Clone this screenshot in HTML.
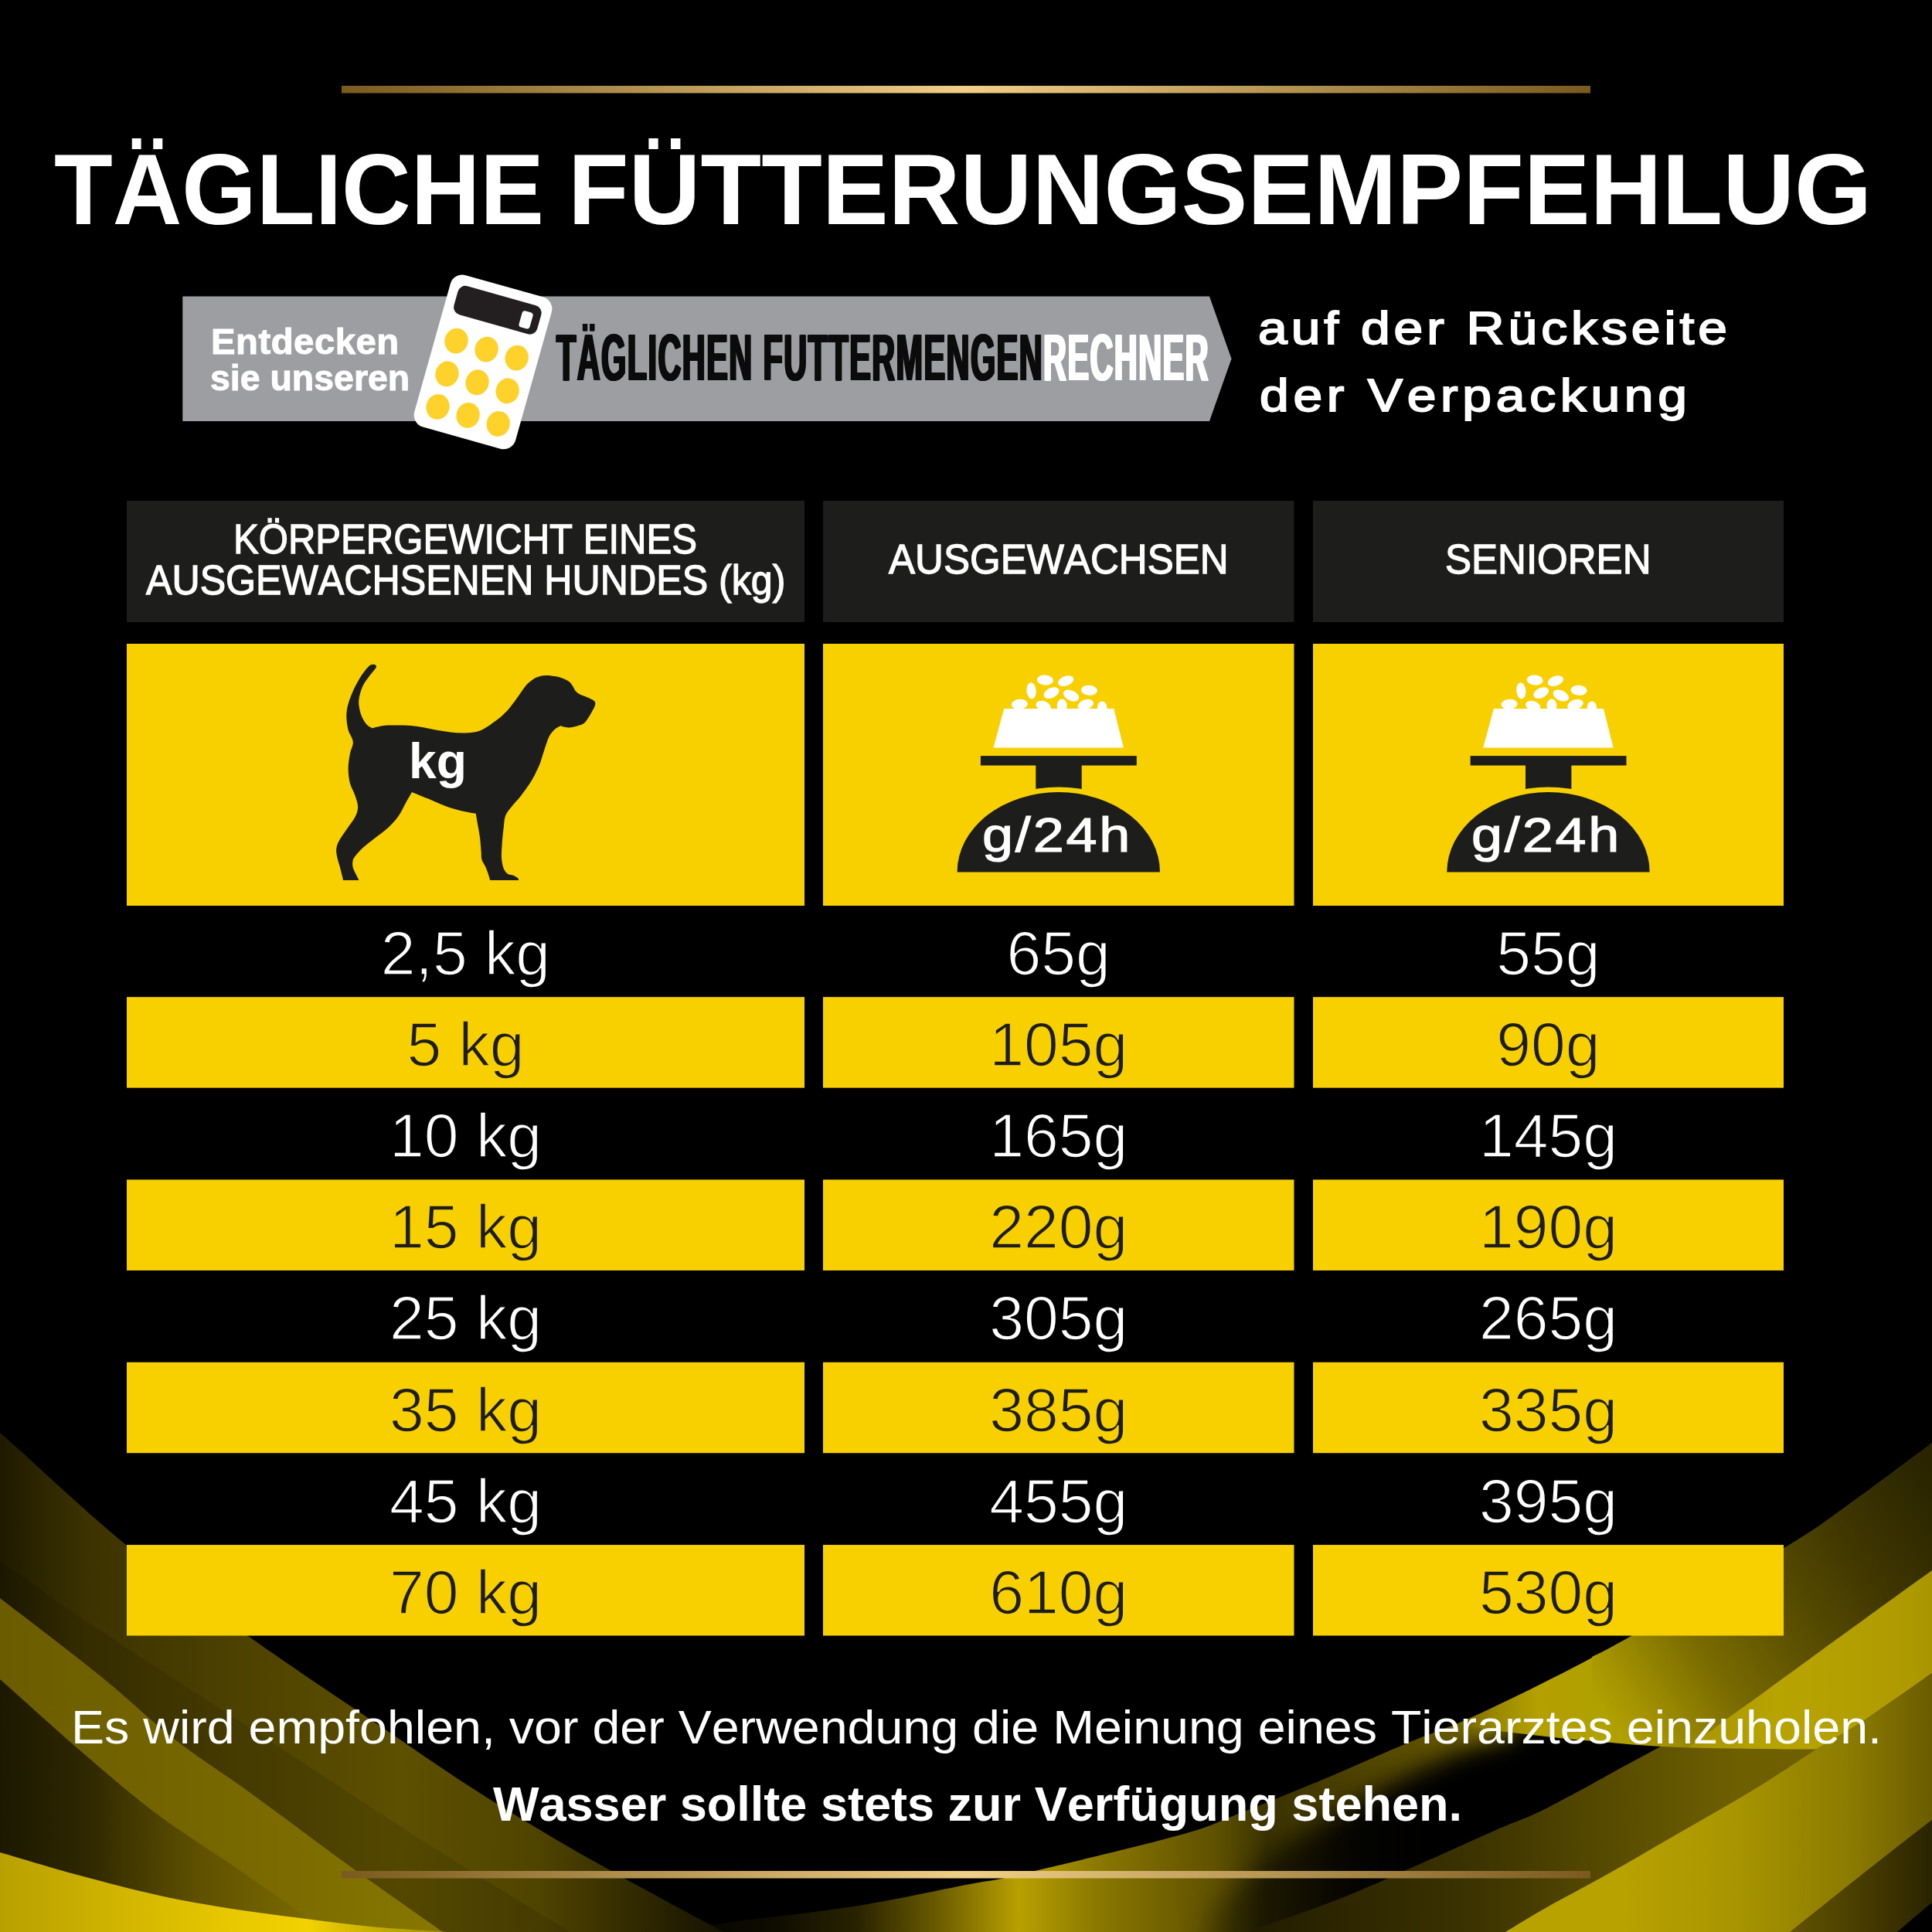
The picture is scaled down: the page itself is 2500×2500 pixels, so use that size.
<!DOCTYPE html>
<html><head><meta charset="utf-8"><title>Tägliche Fütterungsempfehlung</title><style>html,body{margin:0;padding:0;background:#000;}
#page{position:absolute;left:0;top:0;width:2500px;height:2500px;overflow:hidden;background:#000;font-family:"Liberation Sans",sans-serif;}
.bg{position:absolute;left:0;top:0;}
.t{position:absolute;white-space:nowrap;line-height:1;transform-origin:0 50%;font-kerning:none;}
</style></head><body><div id="page">
<svg class="bg" width="2500" height="2500" viewBox="0 0 2500 2500"><defs><linearGradient id="gA" gradientUnits="userSpaceOnUse" x1="0" y1="0" x2="940" y2="0"><stop offset="0.0000" stop-color="#1f1a00"/><stop offset="0.1170" stop-color="#3b3200"/><stop offset="0.3191" stop-color="#4d4100"/><stop offset="0.5532" stop-color="#5e5000"/><stop offset="0.7447" stop-color="#4f4300"/><stop offset="1.0000" stop-color="#141100"/></linearGradient><linearGradient id="gB" gradientUnits="userSpaceOnUse" x1="0" y1="0" x2="610" y2="0"><stop offset="0.0000" stop-color="#6b5c00"/><stop offset="0.5738" stop-color="#7a6a00"/><stop offset="1.0000" stop-color="#8a7a00"/></linearGradient><linearGradient id="gC" gradientUnits="userSpaceOnUse" x1="0" y1="0" x2="460" y2="0"><stop offset="0.0000" stop-color="#1c1800"/><stop offset="0.2391" stop-color="#2e2700"/><stop offset="0.5522" stop-color="#5e5000"/><stop offset="0.8696" stop-color="#7a6a00"/><stop offset="1.0000" stop-color="#7a6a00"/></linearGradient><linearGradient id="gD" gradientUnits="userSpaceOnUse" x1="0" y1="0" x2="650" y2="0"><stop offset="0.0000" stop-color="#b8a000"/><stop offset="0.4615" stop-color="#e8c800"/><stop offset="0.6154" stop-color="#f2d200"/><stop offset="0.7385" stop-color="#c8b000"/><stop offset="1.0000" stop-color="#8a7a00"/></linearGradient><linearGradient id="gR1" gradientUnits="userSpaceOnUse" x1="800" y1="0" x2="2560" y2="0"><stop offset="0.0000" stop-color="#000000"/><stop offset="0.1136" stop-color="#0e0c00"/><stop offset="0.1761" stop-color="#2a2300"/><stop offset="0.2352" stop-color="#6b5c00"/><stop offset="0.2943" stop-color="#b8a000"/><stop offset="0.3528" stop-color="#8a7800"/><stop offset="0.4409" stop-color="#5e5000"/><stop offset="0.4773" stop-color="#3a3200"/><stop offset="0.5312" stop-color="#4a3f00"/><stop offset="0.5881" stop-color="#5e5000"/><stop offset="0.6136" stop-color="#6b5c00"/><stop offset="0.6455" stop-color="#9a8800"/><stop offset="0.6761" stop-color="#b4a000"/><stop offset="0.7159" stop-color="#b0a000"/><stop offset="0.7955" stop-color="#9a8a00"/><stop offset="0.8523" stop-color="#6b5c00"/><stop offset="0.9091" stop-color="#4a4000"/><stop offset="0.9659" stop-color="#2e2800"/><stop offset="1.0000" stop-color="#2a2400"/></linearGradient><linearGradient id="gIn" gradientUnits="userSpaceOnUse" x1="2185" y1="0" x2="2560" y2="0"><stop offset="0.0000" stop-color="#a89400"/><stop offset="0.3067" stop-color="#b8a400"/><stop offset="0.7067" stop-color="#b09c00"/><stop offset="1.0000" stop-color="#a08c00"/></linearGradient><linearGradient id="gW" gradientUnits="userSpaceOnUse" x1="1500" y1="0" x2="2300" y2="0"><stop offset="0.0000" stop-color="#000" stop-opacity="0"/><stop offset="0.1750" stop-color="#000" stop-opacity="0.55"/><stop offset="0.3125" stop-color="#000" stop-opacity="0.95"/><stop offset="0.4375" stop-color="#000" stop-opacity="1"/><stop offset="1.0000" stop-color="#000" stop-opacity="1"/></linearGradient><linearGradient id="gX" gradientUnits="userSpaceOnUse" x1="1540" y1="0" x2="2350" y2="0"><stop offset="0.0000" stop-color="#1a1600"/><stop offset="0.1975" stop-color="#2a2300"/><stop offset="0.4444" stop-color="#3a3200"/><stop offset="0.5679" stop-color="#4a3f00"/><stop offset="0.6914" stop-color="#5a4d00"/><stop offset="0.8765" stop-color="#6e6000"/><stop offset="1.0000" stop-color="#6e6000"/></linearGradient><linearGradient id="gY" gradientUnits="userSpaceOnUse" x1="1850" y1="0" x2="2560" y2="0"><stop offset="0.0000" stop-color="#8a7800"/><stop offset="0.1408" stop-color="#b8a200"/><stop offset="0.3521" stop-color="#b8a200"/><stop offset="0.5634" stop-color="#a89400"/><stop offset="0.7746" stop-color="#8a7a00"/><stop offset="0.9155" stop-color="#6b5c00"/><stop offset="1.0000" stop-color="#5e5000"/></linearGradient><linearGradient id="gZ" gradientUnits="userSpaceOnUse" x1="2280" y1="0" x2="2560" y2="0"><stop offset="0.0000" stop-color="#6b5c00"/><stop offset="0.4286" stop-color="#4a3f00"/><stop offset="0.7857" stop-color="#2a2400"/><stop offset="1.0000" stop-color="#1a1600"/></linearGradient><linearGradient id="gR1d" gradientUnits="userSpaceOnUse" x1="2060" y1="2190" x2="2500" y2="1900"><stop offset="0.0000" stop-color="#b0a000"/><stop offset="0.0800" stop-color="#a49200"/><stop offset="0.2750" stop-color="#7a6c00"/><stop offset="0.5070" stop-color="#5a4e00"/><stop offset="0.7380" stop-color="#3f3600"/><stop offset="0.9360" stop-color="#2e2800"/><stop offset="1.0000" stop-color="#2a2400"/></linearGradient><linearGradient id="gold" gradientUnits="userSpaceOnUse" x1="442" y1="0" x2="2058" y2="0"><stop offset="0.0000" stop-color="#7a5a1e"/><stop offset="0.5000" stop-color="#f0cf86"/><stop offset="1.0000" stop-color="#7a5a1e"/></linearGradient><clipPath id="cw"><path d="M800.0 2510.0 C810.0 2508.3 840.2 2503.2 860.0 2500.0 C879.8 2496.8 903.2 2493.3 919.0 2491.0 C934.8 2488.7 923.2 2490.2 955.0 2486.0 C986.8 2481.8 1060.0 2474.0 1110.0 2466.0 C1160.0 2458.0 1220.3 2444.7 1255.0 2438.0 C1289.7 2431.3 1273.0 2436.5 1318.0 2426.0 C1363.0 2415.5 1478.0 2388.0 1525.0 2375.0 C1572.0 2362.0 1569.0 2360.0 1600.0 2348.0 C1631.0 2336.0 1674.3 2318.3 1711.0 2303.0 C1747.7 2287.7 1791.8 2268.2 1820.0 2256.0 C1848.2 2243.8 1870.0 2234.3 1880.0 2230.0 L1880.0 2230.0 L1940.0 2240.0 L2000.0 2247.0 L2037.0 2251.0 L2074.0 2254.0 L2112.0 2257.5 L2149.0 2260.0 L2100.0 2286.5 C2083.3 2295.6 2027.2 2327.2 2000.0 2340.8 C1972.8 2354.4 1963.9 2356.0 1936.5 2368.0 C1909.1 2380.0 1869.2 2398.2 1835.5 2413.0 C1801.8 2427.8 1773.8 2441.4 1734.6 2456.7 C1695.3 2472.0 1632.4 2493.6 1600.0 2505.0 C1567.6 2516.4 1550.0 2521.7 1540.0 2525.0 L800.0 2560.0 Z"/></clipPath><filter id="blur" x="-20%" y="-20%" width="140%" height="140%"><feGaussianBlur stdDeviation="16"/></filter></defs><path d="M2560.0 1822.0 C2550.0 1829.5 2528.3 1845.9 2500.0 1867.0 C2471.7 1888.1 2421.8 1925.8 2390.0 1948.5 C2358.2 1971.2 2355.5 1974.9 2309.0 2003.0 C2262.5 2031.1 2161.8 2088.5 2111.0 2117.0 C2060.2 2145.5 2039.2 2156.2 2004.0 2174.0 C1968.8 2191.8 1930.7 2210.3 1900.0 2224.0 C1869.3 2237.7 1851.5 2242.8 1820.0 2256.0 C1788.5 2269.2 1747.7 2287.7 1711.0 2303.0 C1674.3 2318.3 1631.0 2336.0 1600.0 2348.0 C1569.0 2360.0 1572.0 2362.0 1525.0 2375.0 C1478.0 2388.0 1363.0 2415.5 1318.0 2426.0 C1273.0 2436.5 1289.7 2431.3 1255.0 2438.0 C1220.3 2444.7 1160.0 2458.0 1110.0 2466.0 C1060.0 2474.0 986.8 2481.8 955.0 2486.0 C923.2 2490.2 934.8 2488.7 919.0 2491.0 C903.2 2493.3 879.8 2496.8 860.0 2500.0 C840.2 2503.2 810.0 2508.3 800.0 2510.0 L800.0 2560.0 L2560.0 2560.0 Z" fill="url(#gR1)"/>
<path d="M2560.0 1822.0 C2550.0 1829.5 2528.3 1845.9 2500.0 1867.0 C2471.7 1888.1 2421.8 1925.8 2390.0 1948.5 C2358.2 1971.2 2355.5 1974.9 2309.0 2003.0 C2262.5 2031.1 2152.5 2093.5 2111.0 2117.0 C2069.5 2140.5 2068.5 2139.5 2060.0 2144.0 L2060.0 2253.0 L2074.0 2254.0 L2112.0 2257.5 L2149.0 2260.0 L2185.0 2261.5 L2185.0 2261.5 C2193.3 2255.2 2219.0 2235.8 2235.0 2224.0 C2251.0 2212.2 2255.2 2209.7 2281.0 2191.0 C2306.8 2172.3 2353.5 2138.1 2390.0 2111.6 C2426.5 2085.1 2471.7 2052.3 2500.0 2032.0 C2528.3 2011.7 2550.0 1997.0 2560.0 1990.0 Z" fill="url(#gR1d)"/>
<path d="M2185.0 2261.5 C2193.3 2255.2 2219.0 2235.8 2235.0 2224.0 C2251.0 2212.2 2255.2 2209.7 2281.0 2191.0 C2306.8 2172.3 2353.5 2138.1 2390.0 2111.6 C2426.5 2085.1 2471.7 2052.3 2500.0 2032.0 C2528.3 2011.7 2550.0 1997.0 2560.0 1990.0 L2560.0 2120.0 C2550.0 2127.5 2522.3 2148.9 2500.0 2165.0 C2477.7 2181.1 2442.7 2205.2 2426.0 2216.7 C2409.3 2228.2 2412.7 2226.2 2400.0 2234.0 C2387.3 2241.8 2358.3 2258.8 2350.0 2263.8 L2350.0 2263.8 L2310.0 2263.8 L2269.0 2263.0 L2227.0 2262.5 L2185.0 2261.5 Z" fill="url(#gIn)"/>
<path d="M1540.0 2525.0 C1550.0 2521.7 1567.6 2516.4 1600.0 2505.0 C1632.4 2493.6 1695.3 2472.0 1734.6 2456.7 C1773.8 2441.4 1801.8 2427.8 1835.5 2413.0 C1869.2 2398.2 1909.1 2380.0 1936.5 2368.0 C1963.9 2356.0 1972.8 2354.4 2000.0 2340.8 C2027.2 2327.2 2075.2 2300.0 2100.0 2286.5 C2124.8 2273.0 2140.8 2264.4 2149.0 2260.0 L2149.0 2260.0 L2185.0 2261.5 L2227.0 2262.5 L2269.0 2263.0 L2310.0 2263.8 L2350.0 2263.8 L2350.0 2560.0 L1540.0 2560.0 Z" fill="url(#gX)"/>
<g clip-path="url(#cw)"><path d="M1560.0 2480.0 L1650.0 2395.0 L1720.0 2350.0 L1820.0 2297.0 L1900.0 2260.0 L1960.0 2242.0 L1960.0 2170.0 L2270.0 2200.0 L2270.0 2340.0 L2000.0 2420.0 L1835.0 2490.0 L1700.0 2540.0 L1560.0 2560.0 Z" fill="url(#gW)" filter="url(#blur)"/></g>
<path d="M1900.0 2530.0 C1908.0 2525.0 1931.3 2510.2 1948.0 2500.0 C1964.7 2489.8 1977.5 2481.7 2000.0 2469.0 C2022.5 2456.3 2055.4 2439.1 2083.0 2423.6 C2110.6 2408.1 2134.6 2393.9 2165.6 2376.0 C2196.6 2358.1 2238.3 2334.7 2269.0 2316.0 C2299.7 2297.3 2336.5 2272.5 2350.0 2263.8 L2400.0 2234.0 C2404.3 2231.1 2409.3 2228.2 2426.0 2216.7 C2442.7 2205.2 2477.7 2181.1 2500.0 2165.0 C2522.3 2148.9 2550.0 2127.5 2560.0 2120.0 L2560.0 2560.0 L1900.0 2560.0 Z" fill="url(#gY)"/>
<path d="M2560.0 2310.0 C2550.0 2317.4 2526.7 2334.2 2500.0 2354.7 C2473.3 2375.2 2430.7 2408.8 2400.0 2433.0 C2369.3 2457.2 2336.0 2484.2 2316.0 2500.0 C2296.0 2515.8 2286.0 2523.3 2280.0 2528.0 L2280.0 2560.0 L2560.0 2560.0 Z" fill="url(#gZ)"/>
<path d="M2560.0 2418.0 C2550.0 2425.3 2517.5 2448.3 2500.0 2462.0 C2482.5 2475.7 2468.3 2489.0 2455.0 2500.0 C2441.7 2511.0 2425.8 2523.3 2420.0 2528.0 L2420.0 2560.0 L2560.0 2560.0 Z" fill="#000"/>
<path d="M-60.0 1805.0 C-50.0 1813.2 -37.2 1821.7 0.0 1854.0 C37.2 1886.3 109.5 1955.2 163.0 1999.0 C216.5 2042.8 264.8 2077.0 321.0 2117.0 C377.2 2157.0 452.9 2207.0 500.0 2239.0 C547.1 2271.0 569.0 2286.7 603.5 2309.0 C638.0 2331.3 674.6 2353.7 707.0 2373.0 C739.4 2392.3 767.8 2408.2 798.0 2425.0 C828.2 2441.8 864.8 2461.5 888.0 2474.0 C911.2 2486.5 922.5 2492.3 937.0 2500.0 C951.5 2507.7 968.7 2516.7 975.0 2520.0 L975.0 2560.0 L-60.0 2560.0 Z" fill="url(#gA)"/>
<path d="M-60.0 1980.0 C-50.0 1986.7 -31.2 1998.7 0.0 2020.0 C31.2 2041.3 69.5 2069.7 127.0 2108.0 C184.5 2146.3 284.5 2210.5 345.0 2250.0 C405.5 2289.5 445.2 2316.0 490.0 2345.0 C534.8 2374.0 572.7 2398.2 614.0 2424.0 C655.3 2449.8 710.3 2483.0 738.0 2500.0 C765.7 2517.0 773.0 2521.7 780.0 2526.0 L780.0 2560.0 L-60.0 2560.0 Z" fill="#000" fill-opacity="0.10"/>
<path d="M-60.0 2022.0 C-50.0 2029.7 -31.5 2043.7 0.0 2068.0 C31.5 2092.3 91.5 2137.7 129.0 2168.0 C166.5 2198.3 192.5 2224.7 225.0 2250.0 C257.5 2275.3 286.8 2293.1 324.0 2320.0 C361.2 2346.9 406.6 2381.5 448.0 2411.5 C489.4 2441.5 545.7 2480.9 572.7 2500.0 C599.7 2519.1 603.8 2521.7 610.0 2526.0 L610.0 2560.0 L-60.0 2560.0 Z" fill="url(#gB)"/>
<path d="M-60.0 2122.0 C-50.0 2130.5 -26.7 2149.7 0.0 2173.0 C26.7 2196.3 66.7 2233.3 100.0 2262.0 C133.3 2290.7 166.1 2319.4 200.0 2345.0 C233.9 2370.6 270.4 2392.8 303.5 2415.6 C336.6 2438.4 378.6 2467.9 398.8 2482.0 C419.1 2496.1 414.8 2492.8 425.0 2500.0 C435.2 2507.2 454.2 2520.8 460.0 2525.0 L460.0 2560.0 L-60.0 2560.0 Z" fill="url(#gC)"/>
<path d="M-60.0 2380.0 C-50.0 2382.8 -26.7 2389.3 0.0 2397.0 C26.7 2404.7 65.5 2416.7 100.0 2426.0 C134.5 2435.3 173.7 2445.7 207.0 2453.0 C240.3 2460.3 269.7 2465.2 300.0 2470.0 C330.3 2474.8 359.0 2478.2 389.0 2482.0 C419.0 2485.8 448.2 2490.0 480.0 2493.0 C511.8 2496.0 551.7 2498.2 580.0 2500.0 C608.3 2501.8 638.3 2503.3 650.0 2504.0 L650.0 2560.0 L-60.0 2560.0 Z" fill="url(#gD)"/>
<rect x="442" y="111" width="1616" height="9.5" fill="url(#gold)"/>
<rect x="442" y="2421" width="1616" height="9.5" fill="url(#gold)"/></svg>
<svg class="bg" width="2500" height="2500" viewBox="0 0 2500 2500"><path d="M236.3 383.5H1565L1593.5 464.2L1565 545H236.3Z" fill="#9d9ea1"/>
<g transform="translate(625 468.4) rotate(15.7)"><rect x="-68" y="-102" width="136" height="204" rx="16" fill="#fff"/><rect x="-56" y="-89" width="112" height="38.5" rx="10" fill="#231f20"/><rect x="31.5" y="-78.5" width="14.5" height="22" rx="4" fill="#fff"/><ellipse cx="-40.6" cy="-16.9" rx="15" ry="16.5" fill="#ffd12b"/><ellipse cx="0" cy="-16.9" rx="15" ry="16.5" fill="#ffd12b"/><ellipse cx="40.6" cy="-16.9" rx="15" ry="16.5" fill="#ffd12b"/><ellipse cx="-40.6" cy="27.4" rx="15" ry="16.5" fill="#ffd12b"/><ellipse cx="0" cy="27.4" rx="15" ry="16.5" fill="#ffd12b"/><ellipse cx="40.6" cy="27.4" rx="15" ry="16.5" fill="#ffd12b"/><ellipse cx="-40.6" cy="71.7" rx="15" ry="16.5" fill="#ffd12b"/><ellipse cx="0" cy="71.7" rx="15" ry="16.5" fill="#ffd12b"/><ellipse cx="40.6" cy="71.7" rx="15" ry="16.5" fill="#ffd12b"/></g>
<rect x="164" y="648" width="877" height="157" fill="#1d1d1b"/>
<rect x="164" y="833" width="877" height="339" fill="#f8d000"/>
<rect x="164" y="1290.15" width="877" height="117.5" fill="#f8d000"/>
<rect x="164" y="1526.45" width="877" height="117.5" fill="#f8d000"/>
<rect x="164" y="1762.75" width="877" height="117.5" fill="#f8d000"/>
<rect x="164" y="1999.05" width="877" height="117.5" fill="#f8d000"/>
<rect x="1065" y="648" width="609.5" height="157" fill="#1d1d1b"/>
<rect x="1065" y="833" width="609.5" height="339" fill="#f8d000"/>
<rect x="1065" y="1290.15" width="609.5" height="117.5" fill="#f8d000"/>
<rect x="1065" y="1526.45" width="609.5" height="117.5" fill="#f8d000"/>
<rect x="1065" y="1762.75" width="609.5" height="117.5" fill="#f8d000"/>
<rect x="1065" y="1999.05" width="609.5" height="117.5" fill="#f8d000"/>
<rect x="1699" y="648" width="609" height="157" fill="#1d1d1b"/>
<rect x="1699" y="833" width="609" height="339" fill="#f8d000"/>
<rect x="1699" y="1290.15" width="609" height="117.5" fill="#f8d000"/>
<rect x="1699" y="1526.45" width="609" height="117.5" fill="#f8d000"/>
<rect x="1699" y="1762.75" width="609" height="117.5" fill="#f8d000"/>
<rect x="1699" y="1999.05" width="609" height="117.5" fill="#f8d000"/>
<path d="M480.9 859.9 C480.3 860.3 479.6 859.6 477.5 861.9 C475.3 864.2 471.2 868.6 467.9 873.7 C464.5 878.9 460.3 886.5 457.3 892.9 C454.4 899.3 451.8 906.3 450.3 912.0 C448.8 917.8 448.3 921.9 448.3 927.3 C448.4 932.8 449.2 939.2 450.6 944.6 C452.0 950.0 456.4 954.8 456.8 959.9 C457.2 965.0 454.0 969.5 452.9 975.2 C451.9 981.0 450.6 988.0 450.6 994.4 C450.6 1000.8 451.5 1007.8 452.9 1013.5 C454.4 1019.3 457.6 1023.7 459.3 1028.9 C461.0 1034.0 463.1 1039.4 463.1 1044.2 C463.1 1049.0 461.7 1052.8 459.3 1057.6 C456.9 1062.4 452.1 1068.0 448.7 1072.9 C445.4 1077.8 441.4 1083.1 439.2 1087.3 C436.9 1091.4 435.8 1094.1 435.3 1097.8 C434.8 1101.5 435.5 1105.1 436.3 1109.3 C437.1 1113.4 439.0 1118.5 440.1 1122.7 C441.2 1126.8 442.3 1131.5 443.0 1134.2 C443.6 1136.9 443.8 1138.2 443.9 1139.0 L464.4 1139.0 C463.8 1137.7 461.9 1134.0 460.6 1131.3 C459.3 1128.6 457.5 1125.4 456.8 1122.7 C456.1 1120.0 456.0 1117.4 456.4 1115.0 C456.8 1112.6 457.0 1111.4 459.3 1108.3 C461.5 1105.3 465.5 1100.8 469.8 1096.8 C474.1 1092.8 479.7 1088.7 485.1 1084.4 C490.5 1080.1 497.2 1075.8 502.3 1071.0 C507.5 1066.2 511.9 1061.1 515.8 1055.7 C519.6 1050.2 522.5 1043.5 525.3 1038.4 C528.2 1033.3 531.7 1027.3 533.0 1025.0 C536.5 1026.5 546.7 1030.6 554.1 1033.6 C561.4 1036.7 569.7 1040.6 577.0 1043.2 C584.4 1045.9 591.7 1047.9 598.1 1049.5 C604.6 1051.1 612.8 1052.2 615.7 1052.8 C616.1 1055.2 617.3 1061.9 618.2 1067.2 C619.1 1072.4 620.4 1078.6 621.1 1084.4 C621.8 1090.1 622.2 1097.0 622.6 1101.6 C623.0 1106.3 622.5 1109.0 623.4 1112.2 C624.2 1115.4 626.4 1117.7 627.8 1120.8 C629.2 1123.8 630.6 1127.3 631.6 1130.4 C632.7 1133.4 633.7 1137.5 634.1 1139.0 L671.3 1139.0 C671.0 1138.5 671.1 1137.1 669.9 1136.1 C668.7 1135.1 666.4 1133.8 664.2 1132.8 C661.9 1131.9 658.7 1132.0 656.5 1130.4 C654.4 1128.7 652.6 1126.2 651.3 1122.7 C650.1 1119.2 649.3 1114.7 649.0 1109.3 C648.8 1103.9 649.4 1096.5 649.8 1090.1 C650.3 1083.8 651.0 1076.7 651.7 1071.0 C652.4 1065.2 652.4 1060.1 654.0 1055.7 C655.7 1051.2 658.2 1048.6 661.7 1044.2 C665.1 1039.7 670.3 1034.6 674.7 1028.9 C679.1 1023.1 684.3 1016.1 688.1 1009.7 C691.9 1003.3 695.5 995.5 697.7 990.5 C699.9 985.6 700.3 983.0 701.3 980.0 C702.3 977.0 702.7 975.8 703.7 972.6 C704.7 969.4 706.2 964.4 707.5 960.9 C708.8 957.4 709.7 954.4 711.4 951.6 C713.1 948.8 715.3 946.0 717.6 943.9 C719.9 941.8 724.1 940.0 725.4 939.2 C726.3 939.5 728.9 940.3 730.8 940.7 C732.7 941.1 734.7 941.6 737.0 941.5 C739.3 941.4 742.2 940.6 744.8 940.0 C747.4 939.4 750.5 938.5 752.6 937.6 C754.7 936.7 755.8 935.9 757.2 934.5 C758.6 933.1 759.7 931.3 761.1 929.1 C762.5 926.9 764.4 923.9 765.8 921.3 C767.2 918.7 769.0 915.7 769.7 913.6 C770.4 911.5 770.6 909.9 770.0 908.5 C769.4 907.1 767.8 906.2 765.8 905.0 C763.8 903.8 760.6 902.6 758.0 901.5 C755.4 900.4 752.4 899.6 750.2 898.4 C748.0 897.2 746.2 895.8 744.8 894.2 C743.4 892.6 743.0 890.7 741.7 888.7 C740.4 886.8 739.1 884.2 737.0 882.5 C734.9 880.8 732.5 879.4 729.3 878.2 C726.1 877.0 721.5 875.8 717.6 875.1 C713.7 874.4 709.6 873.9 706.0 874.0 C702.4 874.1 698.9 874.9 695.9 875.9 C692.9 876.9 690.7 878.3 688.1 880.2 C685.5 882.1 683.2 883.8 680.4 887.2 C677.5 890.6 675.1 894.8 671.0 900.4 C666.9 906.0 660.7 915.0 655.5 920.6 C650.3 926.2 645.7 929.6 640.0 933.8 C634.3 938.0 627.4 943.1 621.1 945.5 C614.7 948.0 608.3 948.1 601.9 948.4 C595.6 948.7 589.2 948.1 582.8 947.5 C576.4 946.8 570.0 945.7 563.6 944.6 C557.2 943.5 550.5 941.7 544.5 940.8 C538.4 939.8 533.0 939.2 527.2 938.8 C521.5 938.5 515.4 938.4 510.0 938.5 C504.6 938.5 499.4 938.6 494.7 939.2 C490.0 939.9 483.8 941.8 481.7 942.3 C480.4 941.4 476.4 939.7 474.0 936.9 C471.6 934.1 469.1 929.6 467.5 925.4 C465.9 921.3 464.8 916.2 464.4 912.0 C464.0 907.9 464.3 904.7 465.2 900.5 C466.1 896.4 467.8 891.3 469.8 887.1 C471.8 883.0 474.9 879.2 477.5 875.6 C480.0 872.1 483.5 868.2 485.1 866.1 C486.7 863.9 487.0 863.6 487.0 862.6 C487.0 861.6 486.1 860.4 485.1 859.9 C484.1 859.5 481.6 859.9 480.9 859.9 Z" fill="#1d1d1b"/>
<g transform="translate(0 0)"><rect x="1340.3" y="985" width="59.4" height="45" fill="#1d1d1b"/><path d="M1231.8 1128.4A138 110 0 0 1 1507.8 1128.4Z" fill="#f8d000"/><path d="M1238.6 1128.4A131.2 103.3 0 0 1 1501.0 1128.4Z" fill="#1d1d1b"/><rect x="1268.9" y="978.1" width="201.9" height="12.4" fill="#1d1d1b"/><path d="M1299.2 917H1441.3L1454 967.5H1285.5Z" fill="#fff"/><ellipse cx="1352.5" cy="880.0" rx="10.6" ry="6.5" transform="rotate(5 1352.5 880.0)" fill="#fff"/><ellipse cx="1379.2" cy="881.1" rx="10.6" ry="6.2" transform="rotate(-20 1379.2 881.1)" fill="#fff"/><ellipse cx="1334.6" cy="893.8" rx="6.2" ry="10.6" transform="rotate(-5 1334.6 893.8)" fill="#fff"/><ellipse cx="1360.5" cy="896.6" rx="10.6" ry="6.5" transform="rotate(-25 1360.5 896.6)" fill="#fff"/><ellipse cx="1386.1" cy="900.0" rx="10.9" ry="6.5" transform="rotate(25 1386.1 900.0)" fill="#fff"/><ellipse cx="1409.4" cy="893.2" rx="10.6" ry="6.5" transform="rotate(5 1409.4 893.2)" fill="#fff"/><ellipse cx="1319.4" cy="911.3" rx="10.6" ry="6.5" transform="rotate(-5 1319.4 911.3)" fill="#fff"/><ellipse cx="1350.1" cy="913.7" rx="10.1" ry="6.5" transform="rotate(20 1350.1 913.7)" fill="#fff"/><ellipse cx="1374.2" cy="912.9" rx="6.5" ry="8.5" transform="rotate(0 1374.2 912.9)" fill="#fff"/><ellipse cx="1404.8" cy="911.8" rx="10.6" ry="6.5" transform="rotate(-20 1404.8 911.8)" fill="#fff"/><ellipse cx="1426.2" cy="915.2" rx="6.2" ry="7.8" transform="rotate(0 1426.2 915.2)" fill="#fff"/></g>
<g transform="translate(633.7 0)"><rect x="1340.3" y="985" width="59.4" height="45" fill="#1d1d1b"/><path d="M1231.8 1128.4A138 110 0 0 1 1507.8 1128.4Z" fill="#f8d000"/><path d="M1238.6 1128.4A131.2 103.3 0 0 1 1501.0 1128.4Z" fill="#1d1d1b"/><rect x="1268.9" y="978.1" width="201.9" height="12.4" fill="#1d1d1b"/><path d="M1299.2 917H1441.3L1454 967.5H1285.5Z" fill="#fff"/><ellipse cx="1352.5" cy="880.0" rx="10.6" ry="6.5" transform="rotate(5 1352.5 880.0)" fill="#fff"/><ellipse cx="1379.2" cy="881.1" rx="10.6" ry="6.2" transform="rotate(-20 1379.2 881.1)" fill="#fff"/><ellipse cx="1334.6" cy="893.8" rx="6.2" ry="10.6" transform="rotate(-5 1334.6 893.8)" fill="#fff"/><ellipse cx="1360.5" cy="896.6" rx="10.6" ry="6.5" transform="rotate(-25 1360.5 896.6)" fill="#fff"/><ellipse cx="1386.1" cy="900.0" rx="10.9" ry="6.5" transform="rotate(25 1386.1 900.0)" fill="#fff"/><ellipse cx="1409.4" cy="893.2" rx="10.6" ry="6.5" transform="rotate(5 1409.4 893.2)" fill="#fff"/><ellipse cx="1319.4" cy="911.3" rx="10.6" ry="6.5" transform="rotate(-5 1319.4 911.3)" fill="#fff"/><ellipse cx="1350.1" cy="913.7" rx="10.1" ry="6.5" transform="rotate(20 1350.1 913.7)" fill="#fff"/><ellipse cx="1374.2" cy="912.9" rx="6.5" ry="8.5" transform="rotate(0 1374.2 912.9)" fill="#fff"/><ellipse cx="1404.8" cy="911.8" rx="10.6" ry="6.5" transform="rotate(-20 1404.8 911.8)" fill="#fff"/><ellipse cx="1426.2" cy="915.2" rx="6.2" ry="7.8" transform="rotate(0 1426.2 915.2)" fill="#fff"/></g></svg>
<div class="t" id="title1" style="left:70.00px;top:179.53px;font-size:130.50px;font-weight:bold;color:#fff;transform:scaleX(0.9506);">TÄGLICHE</div>
<div class="t" id="title2" style="left:735.00px;top:179.53px;font-size:130.50px;font-weight:bold;color:#fff;transform:scaleX(0.9861);">FÜTTERUNGSEMPFEHLUG</div>
<div class="t" id="ent1" style="left:272.80px;top:417.91px;font-size:47.00px;font-weight:bold;color:#fff;letter-spacing:0.484px;transform:scaleX(1.0068);-webkit-text-stroke:1px #fff;">Entdecken</div>
<div class="t" id="ent2" style="left:271.80px;top:464.91px;font-size:47.00px;font-weight:bold;color:#fff;transform:scaleX(0.9885);-webkit-text-stroke:1px #fff;">sie unseren</div>
<div class="t" id="ban" style="left:720.00px;top:420.12px;font-size:85.50px;font-weight:bold;color:#0b0b0c;transform:scaleX(0.4843);text-shadow:2.6px 0 #0b0b0c,-2.6px 0 #0b0b0c,1.3px 0 #0b0b0c,-1.3px 0 #0b0b0c;letter-spacing:3px;">TÄGLICHEN FUTTERMENGEN<span style="color:#fff;text-shadow:2.6px 0 #fff,-2.6px 0 #fff,1.3px 0 #fff,-1.3px 0 #fff">RECHNER</span></div>
<div class="t" id="auf1" style="left:1628.00px;top:394.81px;font-size:60.00px;font-weight:normal;color:#fff;letter-spacing:4.391px;transform:scaleX(1.1300);-webkit-text-stroke:1.9px #fff;">auf der Rückseite</div>
<div class="t" id="auf2" style="left:1630.00px;top:481.91px;font-size:60.00px;font-weight:normal;color:#fff;letter-spacing:5.059px;transform:scaleX(1.1300);-webkit-text-stroke:1.9px #fff;">der Verpackung</div>
<div class="t" id="h1a" style="left:302.00px;top:670.63px;font-size:53.60px;font-weight:normal;color:#fff;transform:scaleX(0.9159);-webkit-text-stroke:1.3px #fff;">KÖRPERGEWICHT EINES</div>
<div class="t" id="h1b" style="left:189.00px;top:724.33px;font-size:53.60px;font-weight:normal;color:#fff;transform:scaleX(0.9355);-webkit-text-stroke:1.3px #fff;">AUSGEWACHSENEN HUNDES (kg)</div>
<div class="t" id="h2" style="left:1150.40px;top:697.13px;font-size:53.60px;font-weight:normal;color:#fff;transform:scaleX(0.9524);-webkit-text-stroke:1.3px #fff;">AUSGEWACHSEN</div>
<div class="t" id="h3" style="left:1869.80px;top:697.13px;font-size:53.60px;font-weight:normal;color:#fff;transform:scaleX(0.9520);-webkit-text-stroke:1.3px #fff;">SENIOREN</div>
<div class="t" id="dogkg" style="left:529.00px;top:951.78px;font-size:65.00px;font-weight:bold;color:#fff;transform:scaleX(0.9882);">kg</div>
<div class="t" id="g24a" style="left:1271.20px;top:1048.38px;font-size:63.70px;font-weight:normal;color:#fff;letter-spacing:2.501px;transform:scaleX(1.1300);-webkit-text-stroke:1.2px #fff;">g/24h</div>
<div class="t" id="g24b" style="left:1904.00px;top:1048.38px;font-size:63.70px;font-weight:normal;color:#fff;letter-spacing:2.501px;transform:scaleX(1.1300);-webkit-text-stroke:1.2px #fff;">g/24h</div>
<div class="t" id="f1" style="left:92.00px;top:2204.12px;font-size:62.00px;font-weight:normal;color:#fff;transform:scaleX(1.0411);">Es wird empfohlen, vor der Verwendung die Meinung eines Tierarztes einzuholen.</div>
<div class="t" id="f2" style="left:638.00px;top:2303.25px;font-size:63.50px;font-weight:bold;color:#fff;transform:scaleX(0.9927);">Wasser sollte stets zur Verfügung stehen.</div>
<div class="t" id="r0_0" style="left:492.85px;top:1192.86px;font-size:80.50px;font-weight:normal;color:#fff;-webkit-text-stroke:1.6px #000;">2,5 kg</div>
<div class="t" id="r0_1" style="left:1302.59px;top:1192.86px;font-size:80.50px;font-weight:normal;color:#fff;-webkit-text-stroke:1.6px #000;">65g</div>
<div class="t" id="r0_2" style="left:1936.34px;top:1192.86px;font-size:80.50px;font-weight:normal;color:#fff;-webkit-text-stroke:1.6px #000;">55g</div>
<div class="t" id="r1_0" style="left:526.42px;top:1311.01px;font-size:80.50px;font-weight:normal;color:#1d1d1b;-webkit-text-stroke:1.6px #f8d000;">5 kg</div>
<div class="t" id="r1_1" style="left:1280.20px;top:1311.01px;font-size:80.50px;font-weight:normal;color:#1d1d1b;-webkit-text-stroke:1.6px #f8d000;">105g</div>
<div class="t" id="r1_2" style="left:1936.34px;top:1311.01px;font-size:80.50px;font-weight:normal;color:#1d1d1b;-webkit-text-stroke:1.6px #f8d000;">90g</div>
<div class="t" id="r2_0" style="left:504.03px;top:1429.16px;font-size:80.50px;font-weight:normal;color:#fff;-webkit-text-stroke:1.6px #000;">10 kg</div>
<div class="t" id="r2_1" style="left:1280.20px;top:1429.16px;font-size:80.50px;font-weight:normal;color:#fff;-webkit-text-stroke:1.6px #000;">165g</div>
<div class="t" id="r2_2" style="left:1913.95px;top:1429.16px;font-size:80.50px;font-weight:normal;color:#fff;-webkit-text-stroke:1.6px #000;">145g</div>
<div class="t" id="r3_0" style="left:504.03px;top:1547.31px;font-size:80.50px;font-weight:normal;color:#1d1d1b;-webkit-text-stroke:1.6px #f8d000;">15 kg</div>
<div class="t" id="r3_1" style="left:1280.20px;top:1547.31px;font-size:80.50px;font-weight:normal;color:#1d1d1b;-webkit-text-stroke:1.6px #f8d000;">220g</div>
<div class="t" id="r3_2" style="left:1913.95px;top:1547.31px;font-size:80.50px;font-weight:normal;color:#1d1d1b;-webkit-text-stroke:1.6px #f8d000;">190g</div>
<div class="t" id="r4_0" style="left:504.03px;top:1665.46px;font-size:80.50px;font-weight:normal;color:#fff;-webkit-text-stroke:1.6px #000;">25 kg</div>
<div class="t" id="r4_1" style="left:1280.20px;top:1665.46px;font-size:80.50px;font-weight:normal;color:#fff;-webkit-text-stroke:1.6px #000;">305g</div>
<div class="t" id="r4_2" style="left:1913.95px;top:1665.46px;font-size:80.50px;font-weight:normal;color:#fff;-webkit-text-stroke:1.6px #000;">265g</div>
<div class="t" id="r5_0" style="left:504.03px;top:1783.61px;font-size:80.50px;font-weight:normal;color:#1d1d1b;-webkit-text-stroke:1.6px #f8d000;">35 kg</div>
<div class="t" id="r5_1" style="left:1280.20px;top:1783.61px;font-size:80.50px;font-weight:normal;color:#1d1d1b;-webkit-text-stroke:1.6px #f8d000;">385g</div>
<div class="t" id="r5_2" style="left:1913.95px;top:1783.61px;font-size:80.50px;font-weight:normal;color:#1d1d1b;-webkit-text-stroke:1.6px #f8d000;">335g</div>
<div class="t" id="r6_0" style="left:504.03px;top:1901.76px;font-size:80.50px;font-weight:normal;color:#fff;-webkit-text-stroke:1.6px #000;">45 kg</div>
<div class="t" id="r6_1" style="left:1280.20px;top:1901.76px;font-size:80.50px;font-weight:normal;color:#fff;-webkit-text-stroke:1.6px #000;">455g</div>
<div class="t" id="r6_2" style="left:1913.95px;top:1901.76px;font-size:80.50px;font-weight:normal;color:#fff;-webkit-text-stroke:1.6px #000;">395g</div>
<div class="t" id="r7_0" style="left:504.03px;top:2019.91px;font-size:80.50px;font-weight:normal;color:#1d1d1b;-webkit-text-stroke:1.6px #f8d000;">70 kg</div>
<div class="t" id="r7_1" style="left:1280.20px;top:2019.91px;font-size:80.50px;font-weight:normal;color:#1d1d1b;-webkit-text-stroke:1.6px #f8d000;">610g</div>
<div class="t" id="r7_2" style="left:1913.95px;top:2019.91px;font-size:80.50px;font-weight:normal;color:#1d1d1b;-webkit-text-stroke:1.6px #f8d000;">530g</div>
</div></body></html>
